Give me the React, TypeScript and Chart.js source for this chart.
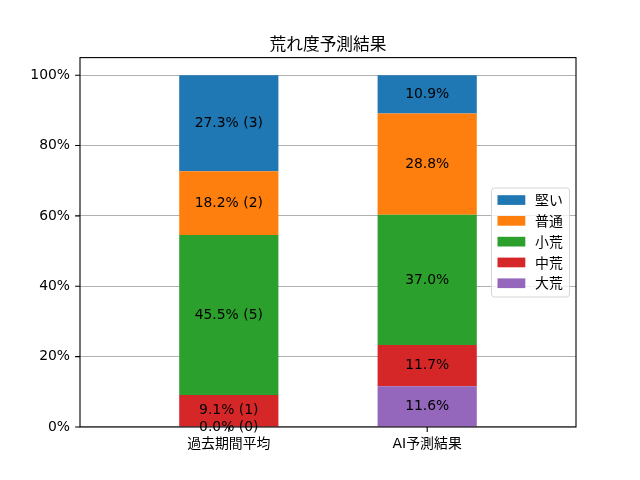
import React, { useEffect, useRef } from "react";
import { Chart, registerables } from "chart.js";

Chart.register(...registerables);

const categories = ["過去期間平均", "AI予測結果"];
// stacked bottom to top
const seriesNames = ["大荒", "中荒", "小荒", "普通", "堅い"];
const seriesColors = ["#9467bd", "#d62728", "#2ca02c", "#ff7f0e", "#1f77b4"];
const pastCounts = [0, 1, 5, 2, 3];
const aiPercent = [11.6, 11.7, 37.0, 28.8, 10.9];
const yTicks = [0, 20, 40, 60, 80, 100];
const titleText = "荒れ度予測結果";

const FONT = '"DejaVu Sans", "Noto Sans CJK JP", sans-serif';
const CJK = '"Noto Sans CJK JP", sans-serif';

const pastTotal = pastCounts.reduce((a, b) => a + b, 0);
const pastPercent = pastCounts.map((c) => (c / pastTotal) * 100);

export default function App() {
  const ref = useRef<HTMLCanvasElement | null>(null);

  useEffect(() => {
    document.body.style.margin = "0";
    const canvas = ref.current;
    if (!canvas) return;

    const overlay = {
      id: "overlay",
      afterDatasetsDraw(chart: any) {
        const ctx = chart.ctx;
        ctx.save();
        ctx.fillStyle = "#000";
        ctx.font = `13.9px ${FONT}`;
        ctx.textAlign = "center";
        ctx.textBaseline = "middle";
        chart.data.datasets.forEach((ds: any, di: number) => {
          const meta = chart.getDatasetMeta(di);
          meta.data.forEach((el: any, j: number) => {
            const p = el.getProps(["x", "y", "base"], true);
            const text =
              j === 0
                ? `${pastPercent[di].toFixed(1)}% (${pastCounts[di]})`
                : `${aiPercent[di].toFixed(1)}%`;
            ctx.fillText(text, p.x, (p.y + p.base) / 2);
          });
        });
        ctx.restore();
      },
      afterDraw(chart: any) {
        const ctx = chart.ctx;
        const a = chart.chartArea;
        ctx.save();
        // frame
        ctx.strokeStyle = "#000";
        ctx.lineWidth = 1.1;
        ctx.strokeRect(a.left, a.top, a.right - a.left, a.bottom - a.top);
        // tick marks
        const ys = chart.scales.y;
        ctx.beginPath();
        yTicks.forEach((v) => {
          const py = ys.getPixelForValue(v);
          ctx.moveTo(a.left - 4.9, py);
          ctx.lineTo(a.left, py);
        });
        const xs = chart.scales.x;
        categories.forEach((_, i) => {
          const px = xs.getPixelForValue(i);
          ctx.moveTo(px, a.bottom);
          ctx.lineTo(px, a.bottom + 4.9);
        });
        ctx.stroke();

        // title
        ctx.fillStyle = "#000";
        ctx.font = `16.7px ${CJK}`;
        ctx.textAlign = "center";
        ctx.textBaseline = "middle";
        ctx.fillText(titleText, (a.left + a.right) / 2, 44);

        // legend
        const lx = 491.5, ly = 188, lw = 78, lh = 109;
        ctx.beginPath();
        const r = 3;
        ctx.moveTo(lx + r, ly);
        ctx.lineTo(lx + lw - r, ly);
        ctx.arcTo(lx + lw, ly, lx + lw, ly + r, r);
        ctx.lineTo(lx + lw, ly + lh - r);
        ctx.arcTo(lx + lw, ly + lh, lx + lw - r, ly + lh, r);
        ctx.lineTo(lx + r, ly + lh);
        ctx.arcTo(lx, ly + lh, lx, ly + lh - r, r);
        ctx.lineTo(lx, ly + r);
        ctx.arcTo(lx, ly, lx + r, ly, r);
        ctx.closePath();
        ctx.fillStyle = "rgba(255,255,255,0.8)";
        ctx.fill();
        ctx.strokeStyle = "rgba(204,204,204,0.8)";
        ctx.lineWidth = 1;
        ctx.stroke();

        ctx.font = `13.9px ${CJK}`;
        ctx.textAlign = "left";
        ctx.textBaseline = "middle";
        const order = [...seriesNames.keys()].reverse();
        order.forEach((si, k) => {
          const cy = 200 + k * 20.8;
          ctx.fillStyle = seriesColors[si];
          ctx.fillRect(497.5, cy - 4.8, 27.8, 9.7);
          ctx.fillStyle = "#000";
          ctx.fillText(seriesNames[si], 535, cy);
        });
        ctx.restore();
      },
    };

    const chart = new Chart(canvas, {
      type: "bar",
      data: {
        datasets: seriesNames.map((name, i) => ({
          label: name,
          data: [
            { x: 0, y: pastPercent[i] },
            { x: 1, y: aiPercent[i] },
          ],
          backgroundColor: seriesColors[i],
          borderWidth: 0,
          categoryPercentage: 1,
          barPercentage: 0.5,
        })),
      },
      options: {
        responsive: false,
        animation: false,
        devicePixelRatio: 1,
        layout: { padding: { top: 57.6, right: 64, left: 0, bottom: 0 } },
        plugins: {
          legend: { display: false },
          title: { display: false },
          tooltip: { enabled: false },
        },
        scales: {
          x: {
            type: "linear",
            stacked: true,
            offset: false,
            min: -0.75,
            max: 1.75,
            grid: { display: false, offset: false },
            border: { display: false },
            afterBuildTicks: (s: any) => {
              s.ticks = categories.map((_, i) => ({ value: i }));
            },
            afterFit: (s: any) => {
              s.height = 53;
            },
            ticks: {
              autoSkip: false,
              maxRotation: 0,
              padding: 1,
              color: "#000",
              font: { family: FONT, size: 13.9 },
              callback: (v: any) => categories[v] ?? "",
            },
          },
          y: {
            type: "linear",
            stacked: true,
            min: 0,
            max: 105,
            grid: { color: "#b0b0b0", lineWidth: 1.1, drawTicks: false },
            border: { display: false },
            afterBuildTicks: (s: any) => {
              s.ticks = yTicks.map((v) => ({ value: v }));
            },
            afterFit: (s: any) => {
              s.width = 80;
            },
            ticks: {
              padding: 10,
              color: "#000",
              font: { family: FONT, size: 13.9 },
              callback: (v: any) => `${v}%`,
            },
          },
        },
      } as any,
      plugins: [overlay],
    });

    return () => chart.destroy();
  }, []);

  return (
    <div style={{ position: "absolute", left: 0, top: 0, width: 640, height: 480, background: "#fff" }}>
      <canvas ref={ref} width={640} height={480} style={{ display: "block" }} />
    </div>
  );
}
